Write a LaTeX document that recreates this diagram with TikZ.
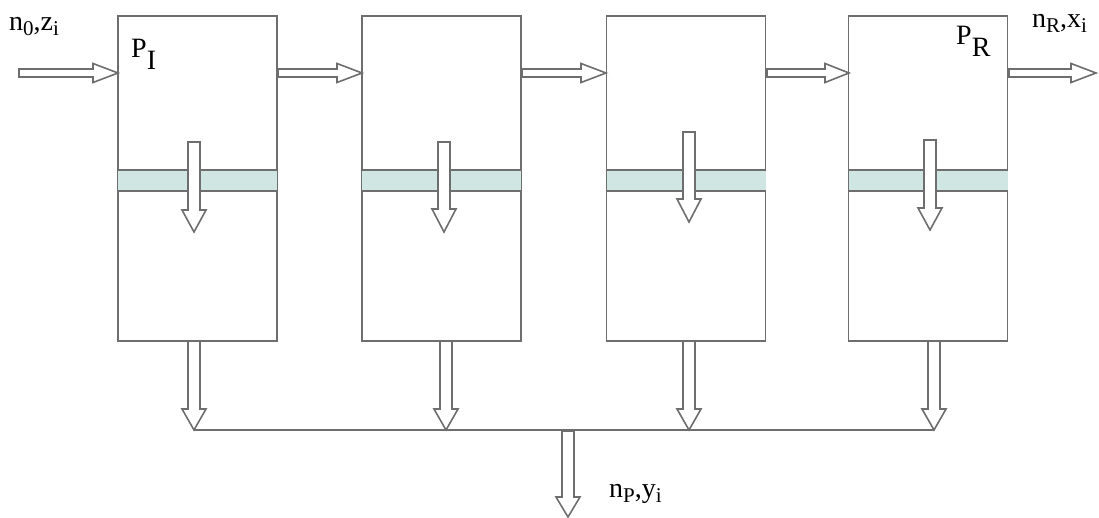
\documentclass[tikz,border=0pt]{standalone}
\usepackage{fontspec}
\setmainfont{Liberation Serif}
\usetikzlibrary{calc}
\definecolor{ln}{RGB}{110,110,110}
\definecolor{band}{RGB}{208,230,227}
\newcommand{\sbs}[1]{\raisebox{-5pt}{\fontsize{21}{21}\selectfont #1}}
% down block arrow: x, ytop, yhead, ytip
\newcommand{\DArrow}[4]{%
  \draw[blk] (#1-6,#2) -- (#1+6,#2) -- (#1+6,#3) -- (#1+12,#3) -- (#1,#4)
    -- (#1-12,#3) -- (#1-6,#3) -- cycle;}
% right block arrow: xstart, y, xhead, xtip
\newcommand{\RArrow}[4]{%
  \draw[blk] (#1,#2-4) -- (#3,#2-4) -- (#3,#2-9.5) -- (#4,#2) -- (#3,#2+9.5)
    -- (#3,#2+4) -- (#1,#2+4) -- cycle;}
\tikzset{
  blk/.style={draw=ln, line width=1.6pt, fill=white, line join=miter},
  box/.style={draw=ln, line width=1.8pt, minimum width=159pt, minimum height=325pt,
    inner sep=0pt, outer sep=0pt},
  lbl/.style={inner sep=0pt, anchor=base west, font=\fontsize{28}{28}\selectfont},
  plbl/.style={inner sep=0pt, anchor=base west, font=\fontsize{28}{28}\selectfont}
}
\begin{document}
\begin{tikzpicture}[x=1pt,y=-1pt]
\useasboundingbox (0,0) rectangle (1099,518);
% boxes
\node[box] (b1) at (197.5,178.5) {};
\node[box] (b2) at (441.5,178.5) {};
\node[box] (b3) at (686,178.5) {};
\node[box] (b4) at (928,178.5) {};
% bands
\foreach \b in {b1,b2,b3,b4}{
  \fill[band] (\b.west |- 0,170) rectangle (\b.east |- 0,191);
  \draw[ln, line width=1.8pt] (\b.west |- 0,170) -- (\b.east |- 0,170);
  \draw[ln, line width=1.8pt] (\b.west |- 0,191) -- (\b.east |- 0,191);
}
% inner arrows
\DArrow{194}{142}{210}{232}
\DArrow{444}{142}{209}{232}
\DArrow{689}{132}{199}{222}
\DArrow{930}{140}{208}{230}
% horizontal arrows
\RArrow{19}{73}{93}{118}
\RArrow{278}{73}{337}{362}
\RArrow{522}{73}{581}{606}
\RArrow{767}{73}{825}{849}
\RArrow{1009}{73}{1071}{1096}
% bottom arrows
\DArrow{194}{341}{409}{430}
\DArrow{446}{341}{409}{430}
\DArrow{689}{341}{409}{430}
\DArrow{934}{341}{409}{430}
% collector line
\coordinate (c1) at (194,430);
\coordinate (c4) at (934,430);
\draw[ln, line width=1.8pt] (c1) -- (c4);
% output arrow
\DArrow{568}{431}{497}{517}
% labels
\node[lbl] (lin) at (9,31) {n\sbs{0},z\sbs{i}};
\node[lbl] (lout) at (1032,28) {n\sbs{R},x\sbs{i}};
\node[lbl] (lbot) at (609,497) {n\sbs{P},y\sbs{i}};
\node[plbl] (pi) at (131,58) {P\raisebox{-12pt}{I}};
\node[plbl] (pr) at (956,45) {P\raisebox{-12pt}{R}};
\end{tikzpicture}
\end{document}
